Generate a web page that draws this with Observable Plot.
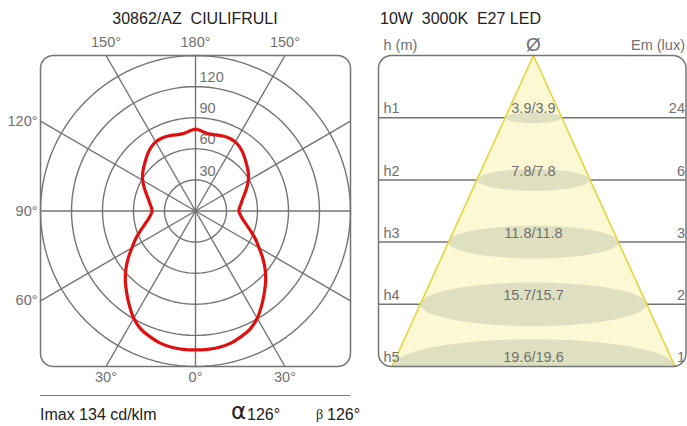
<!DOCTYPE html>
<html>
<head>
<meta charset="utf-8">
<script src="https://cdn.jsdelivr.net/npm/d3@7"></script>
<script src="https://cdn.jsdelivr.net/npm/@observablehq/plot@0.6"></script>
<style>
  html, body { margin: 0; padding: 0; background: #fff; }
  #wrap { position: relative; width: 687px; height: 426px; overflow: hidden; font-family: "Liberation Sans", Arial, sans-serif; }
  #wrap > svg, #wrap > figure { position: absolute; top: 0; margin: 0; }
  .t { position: absolute; white-space: pre; line-height: 1; }
</style>
</head>
<body>
<div id="wrap"></div>
<script>
// ---------- Data ----------
const titleLeft = "30862/AZ  CIULIFRULI";
const titleRight = "10W  3000K  E27 LED";
// Luminous intensity curve (cd/klm) vs angle from nadir (0° = down)
const angles = [0,5,10,15,20,25,30,35,40,45,50,55,60,65,70,75,80,85,90,95,100,105,110,115,120,125,130,135,140,145,150,155,160,165,170,175,180];
const intensity = [134,134,133.5,132,129,125.5,119.5,111.5,103.5,96,88,79.5,71,64,57,51,46.5,43.5,42,43,45,47.5,51,55,59,62.5,65.5,68.5,72,75,77,77.5,77,76,75.5,77,79];
const ringValues = [30,60,90,120,150];
const ringLabels = [30,60,90,120];
const spokeAngles = [0,30,60,90,120,150,180,210,240,270,300,330];
const angleLabelDefs = [
  {a:150, side:-1}, {a:180, side:0}, {a:150, side:1},
  {a:120, side:-1}, {a:90, side:-1}, {a:60, side:-1},
  {a:30, side:-1}, {a:0, side:0}, {a:30, side:1}
];
// Cone diagram
const levels = ["h1","h2","h3","h4","h5"];
const diameters = [3.9,7.8,11.8,15.7,19.6];
const illuminance = [24,6,3,2,1];
const imax = "Imax 134 cd/klm";
const alphaAngle = "126°";
const betaAngle = "126°";

// ---------- Styles ----------
const GRID = "#747474";
const LABEL = "#707070";
const FONT = "Liberation Sans, Arial, sans-serif";
const rad = d => d * Math.PI / 180;

// ---------- Left: polar photometric diagram ----------
const ringPts = ringValues.flatMap(r => d3.range(0, 361, 3).map(t => ({r, x: r*Math.sin(rad(t)), y: r*Math.cos(rad(t))})));
const spokes = spokeAngles.map(a => {
  const s = Math.sin(rad(a)), c = Math.cos(rad(a));
  const L = 150 / Math.max(Math.abs(s), Math.abs(c));
  return {x2: L*s, y2: -L*c};
});
const curve = [];
angles.forEach((a,i) => curve.push({x: intensity[i]*Math.sin(rad(a)), y: -intensity[i]*Math.cos(rad(a))}));
for (let i = angles.length - 2; i > 0; i--) curve.push({x: -intensity[i]*Math.sin(rad(angles[i])), y: -intensity[i]*Math.cos(rad(angles[i]))});

const angLab = angleLabelDefs.map(d => {
  const s = d.side * Math.sin(rad(d.a)), c = Math.cos(rad(d.a));
  const L = 150 / Math.max(Math.abs(s), Math.abs(c));
  const onSide = Math.abs(s) > Math.abs(c) + 1e-9;
  return {label: d.a + "°", x: L*s, y: -L*c, onSide, top: -c > 0};
});

const left = Plot.plot({
  width: 365, height: 400,
  marginLeft: 40, marginRight: 15, marginTop: 55, marginBottom: 34,
  x: {domain: [-150,150], axis: null},
  y: {domain: [-150,150], axis: null},
  style: {background: "transparent", fontFamily: FONT, overflow: "visible"},
  marks: [
    Plot.line(ringPts, {x: "x", y: "y", z: "r", stroke: GRID, strokeWidth: 1.4}),
    Plot.link(spokes, {x1: () => 0, y1: () => 0, x2: "x2", y2: "y2", stroke: GRID, strokeWidth: 1.4}),
    Plot.frame({rx: 13, ry: 13, stroke: GRID, strokeWidth: 1.5}),
    Plot.text(ringLabels, {x: () => 0, y: d => d, text: d => String(d), textAnchor: "start", dx: 4, dy: -9, fill: LABEL, fontSize: 14.5}),
    Plot.line(curve, {x: "x", y: "y", curve: "catmull-rom-closed", stroke: "#e01010", strokeWidth: 3.2}),
    Plot.text(angLab.filter(d => !d.onSide && d.top), {x: "x", y: "y", text: "label", dy: -13, fill: LABEL, fontSize: 14.5}),
    Plot.text(angLab.filter(d => !d.onSide && !d.top), {x: "x", y: "y", text: "label", dy: 11, fill: LABEL, fontSize: 14.5}),
    Plot.text(angLab.filter(d => d.onSide), {x: "x", y: "y", text: "label", textAnchor: "end", dx: -3, fill: LABEL, fontSize: 14.5})
  ]
});
left.style.left = "0px";

// ---------- Right: cone diagram ----------
const kx = 14.44, ky = 62.2; // px per metre, px per level (layout)
const xMin = -10.73, xMax = 10.56;
const half = diameters.map(d => d/2);
const levelLines = levels.map((h,i) => ({y: i+1}));
const cone = [{x: 0, y: 0}, {x: -half[4], y: 5}, {x: half[4], y: 5}];
const ellipses = levels.flatMap((h,i) => {
  const rx = half[i];
  const ry = rx * kx / 5.2 / ky;
  return d3.range(0, 361, 4).map(t => ({h, x: rx*Math.cos(rad(t)), y: (i+1) + ry*Math.sin(rad(t))}));
});

const right = Plot.plot({
  width: 327, height: 400,
  marginLeft: 18, marginRight: 1.5, marginTop: 55, marginBottom: 34,
  x: {domain: [xMin, xMax], axis: null},
  y: {domain: [0,5], reverse: true, axis: null},
  style: {background: "transparent", fontFamily: FONT, overflow: "visible"},
  marks: [
    Plot.ruleY(levelLines.slice(0,4), {y: "y", x1: () => xMin, x2: () => xMax, stroke: GRID, strokeWidth: 1.5}),
    Plot.line([...cone, cone[0]], {x: "x", y: "y", fill: "#fcf8d3", stroke: "none"}),
    Plot.line(ellipses, {x: "x", y: "y", z: "h", fill: "#dfe0c1", stroke: "none", clip: true}),
    Plot.line([cone[1], cone[0], cone[2]], {x: "x", y: "y", stroke: "#e6d43a", strokeWidth: 1.6}),
    Plot.frame({rx: 13, ry: 13, stroke: GRID, strokeWidth: 1.5}),
    Plot.text(levels, {x: () => xMin, y: (d,i) => i+1, text: d => d, textAnchor: "start", dx: 5, dy: -9, fill: LABEL, fontSize: 14.5}),
    Plot.text(illuminance, {x: () => xMax, y: (d,i) => i+1, text: d => String(d), textAnchor: "end", dx: -1, dy: -9, fill: LABEL, fontSize: 14.5}),
    Plot.text(diameters, {x: () => 0, y: (d,i) => i+1, text: d => `${d.toFixed(1)}/${d.toFixed(1)}`, dy: -9, fill: LABEL, fontSize: 14.5}),
    Plot.text(["h (m)"], {x: () => xMin, y: () => 0, text: d => d, textAnchor: "start", dx: 5, dy: -10, fill: LABEL, fontSize: 14.5}),
    Plot.text(["Em (lux)"], {x: () => xMax, y: () => 0, text: d => d, textAnchor: "end", dx: -1, dy: -10, fill: LABEL, fontSize: 14.5}),
    Plot.text(["Ø"], {x: () => 0, y: () => 0, text: d => d, dy: -11, fill: LABEL, fontSize: 19})
  ]
});
right.style.left = "360px";

const wrap = document.getElementById("wrap");
wrap.appendChild(left);
wrap.appendChild(right);

function addText(txt, x, y, size, color, anchor, family) {
  const d = document.createElement("div");
  d.className = "t";
  d.textContent = txt;
  d.style.fontSize = size + "px";
  d.style.color = color;
  if (family) d.style.fontFamily = family;
  d.style.top = (y - size/2) + "px";
  d.style.left = x + "px";
  if (anchor === "middle") d.style.transform = "translateX(-50%)";
  wrap.appendChild(d);
  return d;
}
addText(titleLeft, 195, 19, 16, "#222", "middle");
addText(titleRight, 380, 19, 16, "#222", "start");
addText(imax, 40, 415, 16, "#222", "start");
addText("α", 231, 411, 23, "#222", "start", "DejaVu Sans");
addText(alphaAngle, 247, 415, 16, "#222", "start");
addText("β", 316, 415, 14, "#222", "start", "Liberation Serif");
addText(betaAngle, 327, 415, 16, "#222", "start");
const rule = document.createElement("div");
rule.style.cssText = "position:absolute;left:40px;top:395px;width:310px;height:0;border-top:1.5px solid #747474;";
wrap.appendChild(rule);
</script>
</body>
</html>
